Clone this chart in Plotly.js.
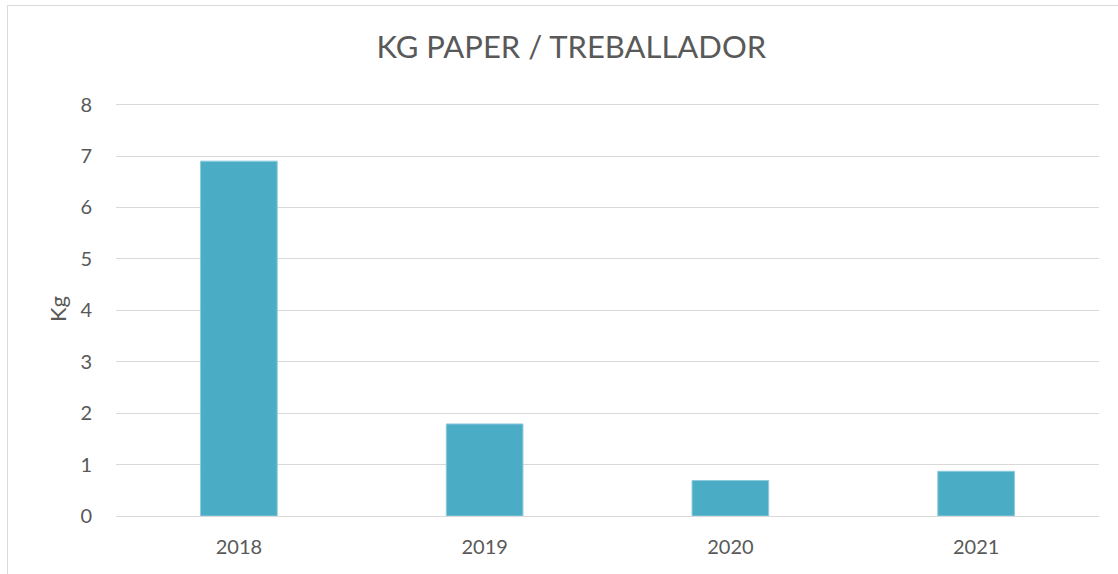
<!DOCTYPE html>
<html>
<head>
<meta charset="utf-8">
<script src="https://cdn.plot.ly/plotly-3.0.1.min.js"></script>
<style>
html,body{margin:0;padding:0;background:#fff;}
#frame{position:absolute;left:7px;top:5px;width:1200px;height:700px;border-left:1px solid #d9d9d9;border-top:1px solid #d9d9d9;}
#chart{position:absolute;left:0;top:0;width:1118px;height:574px;}
</style>
</head>
<body>
<div id="frame"></div>
<div id="chart"></div>
<script>
const years = ['2018', '2019', '2020', '2021'];
const kgPerWorker = [6.9, 1.79, 0.69, 0.87];
const yTicks = [0, 1, 2, 3, 4, 5, 6, 7, 8];

const trace = {
  type: 'bar',
  x: years,
  y: kgPerWorker,
  marker: {color: '#4BACC6', line: {color: '#8fcbdc', width: 1}},
  hoverinfo: 'x+y'
};

const fam = 'Lato, "Open Sans", sans-serif';
const font = {family: fam, color: '#595959', size: 20};

const layout = {
  width: 1118, height: 574,
  margin: {l: 116, r: 19, t: 102, b: 58},
  paper_bgcolor: 'rgba(0,0,0,0)',
  plot_bgcolor: 'rgba(0,0,0,0)',
  font: font,
  bargap: 0.688,
  showlegend: false,
  title: {text: 'KG PAPER / TREBALLADOR', x: 0.511, xanchor: 'center', y: 0.917, yanchor: 'middle',
          font: {family: fam, size: 31, color: '#595959'}},
  xaxis: {
    type: 'category',
    showgrid: false,
    showline: true, linecolor: '#d9d9d9', linewidth: 1,
    ticks: 'outside', ticklen: 13, tickcolor: 'rgba(0,0,0,0)',
    tickfont: font, zeroline: false
  },
  yaxis: {
    range: [0, 8.05],
    tickvals: yTicks,
    ticktext: yTicks.map(String),
    showgrid: true, gridcolor: '#d9d9d9', gridwidth: 1,
    zeroline: false, showline: false,
    ticks: 'outside', ticklen: 19, tickcolor: 'rgba(0,0,0,0)',
    tickfont: font,
    title: {text: 'Kg', font: {family: fam, size: 22, color: '#595959'}, standoff: 7}
  }
};

Plotly.newPlot('chart', [trace], layout, {displayModeBar: false, staticPlot: true});
</script>
</body>
</html>
